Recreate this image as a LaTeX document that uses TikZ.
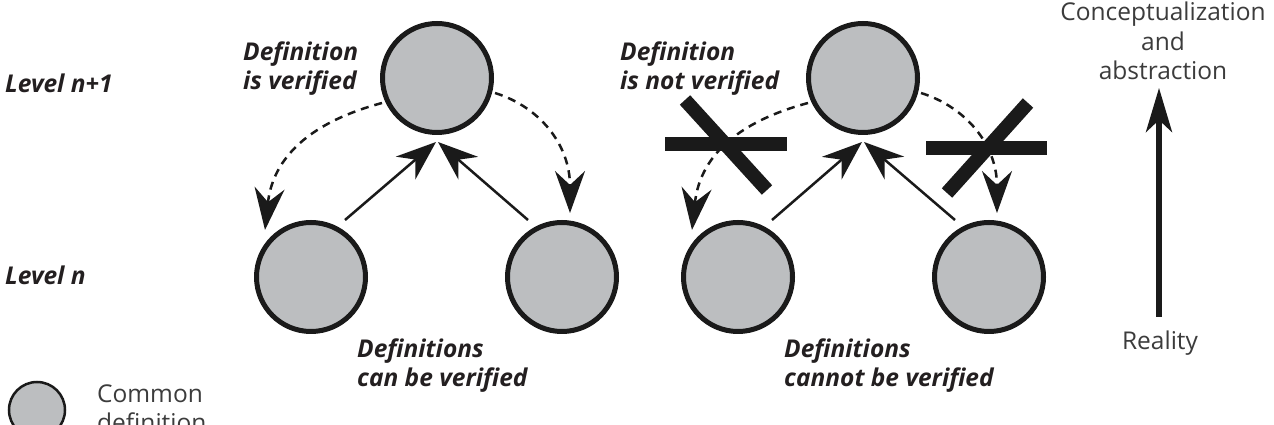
\documentclass[tikz,border=0pt]{standalone}
\usepackage{fontspec}
\setmainfont{Open Sans}
\usetikzlibrary{arrows.meta,calc}
\definecolor{cfill}{HTML}{BCBEC0}
\definecolor{cline}{HTML}{1A1A1A}
\definecolor{ctext}{HTML}{231F20}
\definecolor{cgray}{HTML}{3C3C3C}
\begin{document}
\begin{tikzpicture}[x=1pt,y=1pt,
  defn/.style={circle, draw=cline, line width=5pt, fill=cfill, minimum size=109pt, inner sep=0pt},
  lbl/.style={font=\fontsize{24.5}{29.5}\selectfont\bfseries\itshape, text=ctext, inner sep=0pt, align=left},
  plain/.style={font=\fontsize{24.5}{29.5}\selectfont, text=cgray, inner sep=0pt},
  upar/.style={line width=2.5pt, draw=cline, -{Stealth[length=40pt,width=30pt,inset=13pt]}},
  dsh/.style={line width=2.5pt, draw=cline, dash pattern=on 8pt off 6pt, -{Stealth[length=42pt,width=30pt,inset=14pt]}},
  cross/.style={line width=14pt, draw=cline},
  bigup/.style={line width=5.5pt, draw=cline, -{Stealth[length=44pt,width=26pt,inset=12pt]}}]
\useasboundingbox (0,0) rectangle (1274,425);
\fill[white] (0,0) rectangle (1274,425);
% circles
\node[defn] (t1) at (437,347) {};
\node[defn] (t2) at (863,347) {};
\node[defn] (b1) at (311,148) {};
\node[defn] (b2) at (562,148) {};
\node[defn] (b3) at (738,148) {};
\node[defn] (b4) at (989,148) {};
% solid arrows
\draw[upar] ($(b1)+(34,57)$) -- ($(t1)+(-1,-64)$);
\draw[upar] ($(b2)+(-34,57)$) -- ($(t1)+(1,-64)$);
\draw[upar] ($(b3)+(34,57)$) -- ($(t2)+(-1,-64)$);
\draw[upar] ($(b4)+(-34,57)$) -- ($(t2)+(1,-64)$);
% dashed arrows
\draw[dsh] ($(t1)+(-55,-25)$) .. controls ($(t1)+(-137,-47)$) and ($(b1)+(-39,112)$) .. ($(b1)+(-46,47)$);
\draw[dsh] ($(t1)+(58,-15)$) .. controls ($(t1)+(103,-29)$) and ($(b2)+(8,132)$) .. ($(b2)+(8,64)$);
\draw[dsh] ($(t2)+(-55,-25)$) .. controls ($(t2)+(-137,-47)$) and ($(b3)+(-39,112)$) .. ($(b3)+(-46,47)$);
\draw[dsh] ($(t2)+(58,-15)$) .. controls ($(t2)+(103,-29)$) and ($(b4)+(8,132)$) .. ($(b4)+(8,64)$);
% crosses
\draw[cross] (665,281) -- (787,281);
\draw[cross] (685,325) -- (767,235);
\draw[cross] (926,277) -- (1047,277);
\draw[cross] (1028,322) -- (947,232);
% labels
\node[lbl, anchor=base west] (ln1) at (5,332) {Level n+1};
\node[lbl, anchor=base west] (ln) at (5,140) {Level n};
\node[lbl, anchor=base west] (dv) at (243,335) {Definition\\is verified};
\node[lbl, anchor=base west] (dnv) at (620,335) {Definition\\is not verified};
\node[lbl, anchor=base west] (dcv) at (357,38) {Definitions\\can be verified};
\node[lbl, anchor=base west] (dcnv) at (784,38) {Definitions\\cannot be verified};
% right column
\node[plain, align=center, anchor=base] (concept) at (1163,345) {Conceptualization\\and\\abstraction};
\node[plain, anchor=base] (reality) at (1160,75) {Reality};
\coordinate (abot) at (1159,108);
\coordinate (atop) at (1159,337);
\draw[bigup] (abot) -- (atop);
% legend
\node[defn, line width=2.5pt, minimum size=56pt] (leg) at (37,15) {};
\node[plain, align=left, anchor=base west] (legt) at (97,-7) {Common\\definition};
\end{tikzpicture}
\end{document}
